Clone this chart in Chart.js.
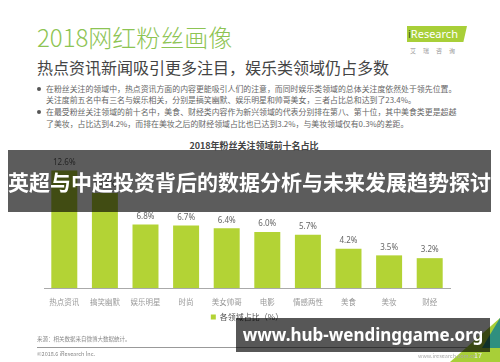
<!DOCTYPE html>
<html>
<head>
<meta charset="utf-8">
<script src="https://cdn.jsdelivr.net/npm/chart.js@4.4.0/dist/chart.umd.min.js"></script>
<style>
  body { margin: 0; background: #fff; font-family: "Noto Sans CJK SC", "Noto Sans", sans-serif; }
  #page { position: relative; width: 500px; height: 362px; overflow: hidden; background: #fff; }
  #page div { position: absolute; white-space: nowrap; }
  #wrap { position: absolute; left: 0; top: 0; width: 500px; height: 362px; }
  .title { left: 37px; top: 22px; font-size: 24px; color: #8dc453; font-weight: 300; line-height: 30px; }
  .sub { left: 37px; top: 56px; font-size: 16px; color: #444; line-height: 22px; }
  .bl { left: 46px; font-size: 7.9px; color: #666; line-height: 10px; }
  .dot { width: 4px; height: 4px; border-radius: 2px; background: #555; left: 37px; }
  .ctitle { left: 0; width: 508px; top: 139px; text-align: center; font-size: 9px; font-weight: bold; color: #444; }
  .band1 { left: 8px; top: 150px; width: 483px; height: 62px; background: rgba(0,0,0,0.64); color: #fff; font-size: 21px; font-weight: bold; line-height: 62px; text-align: center; }
  .band2 { left: 236px; top: 318px; width: 254px; height: 34px; background: rgba(0,0,0,0.66); color: #fff; font-family: "Noto Sans", sans-serif; font-size: 17px; font-weight: bold; line-height: 34px; text-align: center; }
  .foot { font-size: 5.5px; color: #888; left: 37px; }
  .rule { left: 37px; top: 347px; width: 453px; height: 1px; background: #999; }
  .logo { left: 407px; top: 26px; width: 60px; height: 16px; background: #a8cf38; clip-path: polygon(0 0, 100% 0, 94% 100%, 0 100%); }
  .logotxt { left: 408px; top: 26px; font-family: "Noto Sans", sans-serif; font-size: 11px; color: #fff; line-height: 16px; }
  .logosub { left: 410px; top: 46px; font-size: 6px; color: #999; letter-spacing: 7px; }
  .tri { left: 450px; top: 318px; width: 50px; height: 44px; background: #a8cf38; clip-path: polygon(100% 0, 100% 100%, 0 100%); }
  .tri2 { left: 470px; top: 318px; width: 30px; height: 30px; background: #2f8f7f; clip-path: polygon(100% 0, 100% 100%, 40% 100%); }
</style>
</head>
<body>
<div id="page">
  <div class="title">2018网红粉丝画像</div>
  <div class="sub">热点资讯新闻吸引更多注目，娱乐类领域仍占多数</div>
  <div class="dot" style="top:87px"></div>
  <div class="bl" style="top:84px">在粉丝关注的领域中，热点资讯方面的内容更能吸引人们的注意，而同时娱乐类领域的总体关注度依然处于领先位置。</div>
  <div class="bl" style="top:95px">关注度前五名中有三名与娱乐相关，分别是搞笑幽默、娱乐明星和帅哥美女，三者占比总和达到了23.4%。</div>
  <div class="dot" style="top:110px"></div>
  <div class="bl" style="top:107px">在最受粉丝关注领域的前十名中，美食、财经类内容作为新兴领域的代表分别排在第八、第十位，其中美食类更是超越</div>
  <div class="bl" style="top:119px">了美妆，占比达到4.2%，而排在美妆之后的财经领域占比也已达到3.2%，与美妆领域仅有0.3%的差距。</div>
  <div class="ctitle">2018年粉丝关注领域前十名占比</div>
  <div class="logo"></div>
  <div class="logotxt"><span style="color:#3a5a1a">i</span>Research</div>
  <div class="logosub">艾瑞咨询</div>
  <div id="wrap"><canvas id="chart"></canvas></div>
  <div class="band1">英超与中超投资背后的数据分析与未来发展趋势探讨</div>
  <div class="foot" style="top:335px">来源：相关数据来自微博大数据统计。</div>
  <div class="rule"></div>
  <div class="foot" style="top:350px">©2018.6 iResearch Inc.</div>
  <div class="tri"></div>
  <div class="tri2"></div>
  <div class="band2">www.hub-wendinggame.org</div>
  <div class="foot" style="left:418px;top:352px;color:#aaa">www.iresearch.com.cn</div>
  <div class="foot" style="left:474px;top:350px;color:#eee;font-size:7px">17</div>
</div>
<script>
var categories = ['热点资讯', '搞笑幽默', '娱乐明星', '时尚', '美女帅哥', '电影', '情感两性', '美食', '美妆', '财经'];
var shares = [12.6, 10.2, 6.8, 6.7, 6.4, 6.0, 5.7, 4.2, 3.5, 3.2];
var seriesName = '各领域占比（%）';

var valueLabels = {
  id: 'valueLabels',
  afterDatasetsDraw: function(chart) {
    var ctx = chart.ctx;
    var meta = chart.getDatasetMeta(0);
    ctx.save();
    ctx.font = '8px "Noto Sans", sans-serif';
    ctx.fillStyle = '#666';
    ctx.textAlign = 'center';
    ctx.textBaseline = 'bottom';
    meta.data.forEach(function(bar, i) {
      ctx.fillText(shares[i].toFixed(1) + '%', bar.x, bar.y - 4);
    });
    ctx.restore();
  }
};

new Chart(document.getElementById('chart'), {
  type: 'bar',
  data: {
    labels: categories,
    datasets: [{
      label: seriesName,
      data: shares,
      backgroundColor: '#b3d335',
      barPercentage: 0.64,
      categoryPercentage: 1
    }]
  },
  options: {
    responsive: true,
    maintainAspectRatio: false,
    animation: false,
    layout: { padding: { left: 44, right: 50, top: 150, bottom: 31 } },
    plugins: {
      legend: {
        display: true,
        position: 'bottom',
        labels: { boxWidth: 5, boxHeight: 5, padding: 4, color: '#555', font: { size: 8, family: 'Noto Sans CJK SC' } }
      },
      tooltip: { enabled: false }
    },
    scales: {
      x: {
        grid: { display: false },
        border: { color: '#aaa' },
        ticks: { color: '#999', padding: 2, font: { size: 7.5, family: 'Noto Sans CJK SC' } }
      },
      y: { display: false, min: 0, max: 14.8 }
    }
  },
  plugins: [valueLabels]
});
</script>
</body>
</html>
